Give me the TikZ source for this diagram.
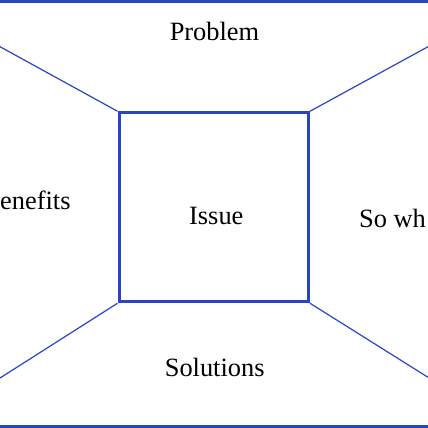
\documentclass[tikz,border=0pt]{standalone}
\usepackage{fontspec}
\setmainfont{Liberation Serif}
\definecolor{lineblue}{HTML}{2A45C4}
\begin{document}
\begin{tikzpicture}[x=1pt,y=-1pt,
  thick line/.style={draw=lineblue,line width=3pt},
  thin line/.style={draw=lineblue,line width=1.2pt},
  label text/.style={inner sep=0pt,font=\fontsize{26.4}{30}\selectfont,text=black}]
\useasboundingbox (0,0) rectangle (428,428);
\clip (0,0) rectangle (428,428);
% frame lines
\coordinate (tl) at (-5,1.5);
\coordinate (tr) at (433,1.5);
\coordinate (bl) at (-5,426.5);
\coordinate (br) at (433,426.5);
\draw[thick line] (tl) -- (tr);
\draw[thick line] (bl) -- (br);
% central square
\node[thick line,inner sep=0pt,minimum width=189.5pt,minimum height=189pt] (box) at (213.75,207.25) {};
% outer ends of diagonals
\coordinate (dnw) at (0,46.7);
\coordinate (dne) at (428,46.7);
\coordinate (dsw) at (0,378);
\coordinate (dse) at (428,377.3);
\draw[thin line] (box.north west) -- (dnw);
\draw[thin line] (box.north east) -- (dne);
\draw[thin line] (box.south west) -- (dsw);
\draw[thin line] (box.south east) -- (dse);
% labels
\node[label text,anchor=base] (problem) at (214.5,41) {Problem};
\node[label text,anchor=base] (issue) at (216.3,224.3) {Issue};
\node[label text,anchor=base] (solutions) at (214.7,376.7) {Solutions};
\node[label text,anchor=base west] (benefits) at (0,209.3) {enefits};
\node[label text,anchor=base west] (sowhat) at (359,227.3) {So wh};
\end{tikzpicture}
\end{document}
